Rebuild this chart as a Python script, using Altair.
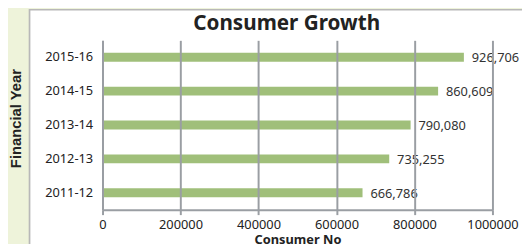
import altair as alt
import pandas as pd

years = ["2015-16", "2014-15", "2013-14", "2012-13", "2011-12"]
consumers = [926706, 860609, 790080, 735255, 666786]
x_ticks = [0, 200000, 400000, 600000, 800000, 1000000]

df = pd.DataFrame({"year": years, "consumers": consumers})
df["label"] = [f"{v:,}" for v in consumers]

FONT = "Noto Sans"

panel = alt.Chart(df).mark_rect(
    fill="white", stroke="#B8B8B8", strokeWidth=1.5, clip=False
).encode(
    x=alt.value(-74), x2=alt.value(440),
    y=alt.value(-31), y2=alt.value(230),
)

base = alt.Chart(df).encode(
    y=alt.Y("year:N", sort=years,
            title="Financial Year",
            scale=alt.Scale(paddingInner=0.0, paddingOuter=0.0),
            axis=alt.Axis(labelFont=FONT, labelFontSize=13, labelColor="#222",
                          labelPadding=10, ticks=False, domain=True,
                          domainColor="#9A9EA3", domainWidth=2, zindex=1,
                          titleFont="Liberation Sans", titleFontSize=15,
                          titleFontWeight="bold",
                          titleColor="#222", titleX=-80, titleY=79,
                          titleAngle=-90, titleAnchor="middle", titleBaseline="bottom",
                          titleAlign="center")),
    x=alt.X("consumers:Q", title="Consumer No",
            scale=alt.Scale(domain=[0, 1000000], nice=False),
            axis=alt.Axis(values=x_ticks, format="d", labelFont=FONT, labelFontSize=13,
                          labelColor="#222", labelPadding=4, zindex=1,
                          labelFlush=False, labelOverlap=False,
                          tickColor="#9A9EA3", tickSize=5, tickWidth=2,
                          domainColor="#9A9EA3", domainWidth=2,
                          grid=True, gridColor="#9A9EA3", gridWidth=2,
                          titleFont=FONT, titleFontSize=13, titleFontWeight="bold",
                          titleColor="#222", titlePadding=2)),
)

bars = base.mark_bar(color="#A0BF7A", size=9)
labels = base.mark_text(align="left", dx=8, dy=1, font=FONT, fontSize=13,
                        color="#333").encode(text="label:N")

chart = alt.layer(panel, bars, labels).properties(
    width=396, height=172,
    background="#EEF3DA",
    padding={"left": 96, "top": 31, "right": 30, "bottom": 33},
    autosize=alt.AutoSizeParams(type="none"),
    title=alt.TitleParams("Consumer Growth", font=FONT, fontSize=21,
                          fontWeight="bold", color="#222", anchor="middle",
                          offset=6, dy=31, dx=-11, zindex=2),
).configure_view(stroke=None)

chart.save("out.html", embed_options={"renderer": "svg", "actions": False})
